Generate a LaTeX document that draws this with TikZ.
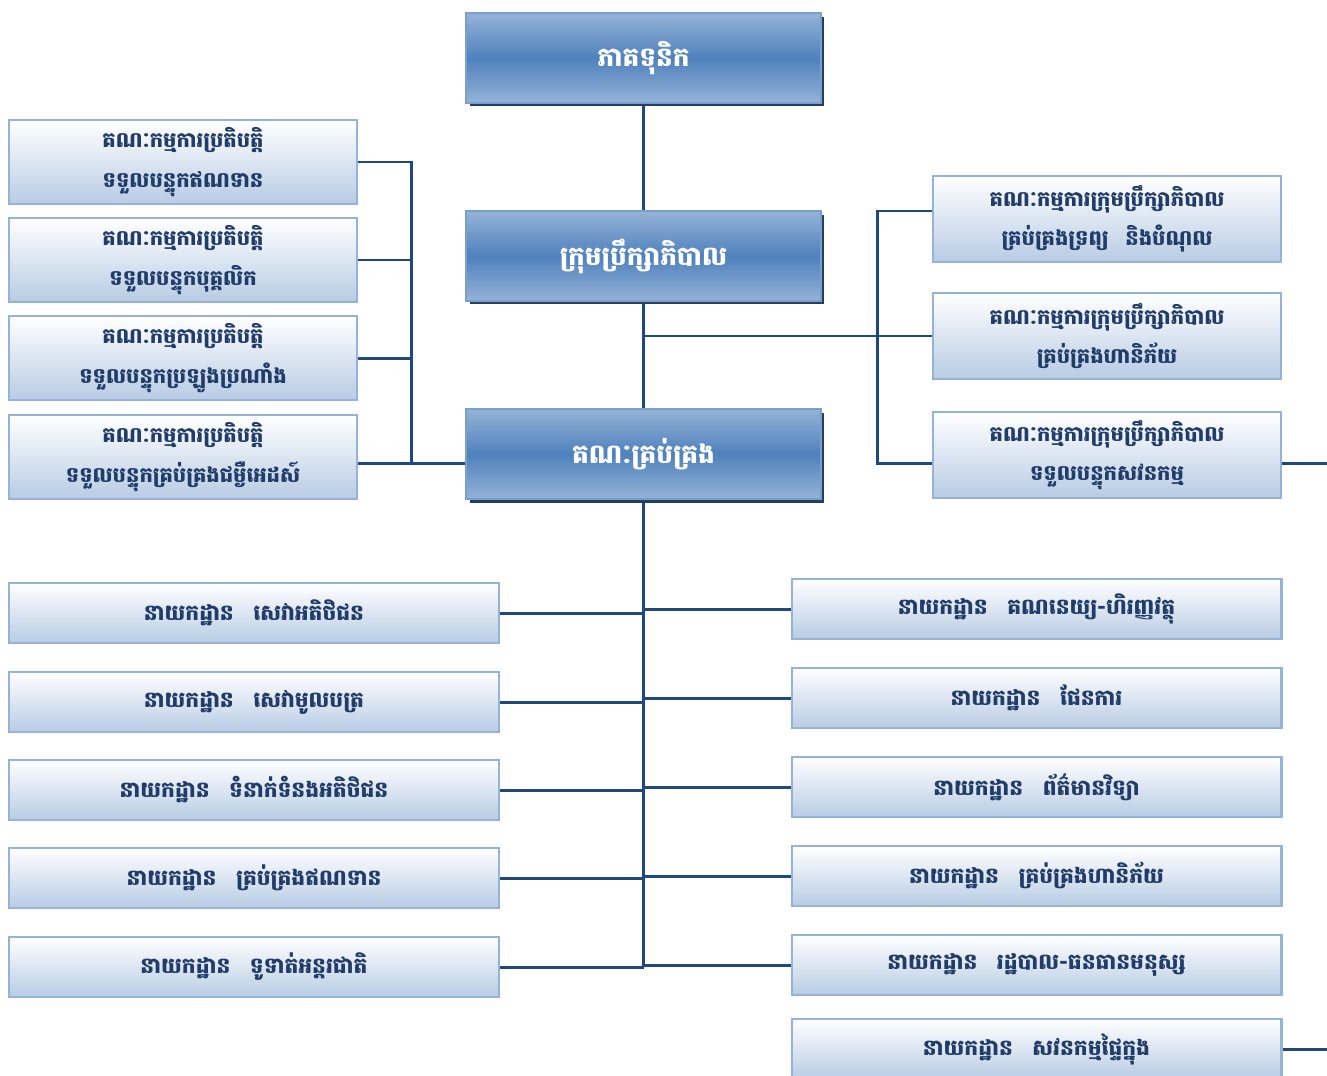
\documentclass[tikz,border=0pt]{standalone}
\usepackage{fontspec}
\newfontfamily\khmer[Script=Khmer]{Battambang}
\usepackage{tikz}
\usetikzlibrary{calc,shadows,backgrounds}
\definecolor{orgnavy}{RGB}{31,73,125}
\definecolor{orgblue}{RGB}{79,129,189}
\definecolor{orgpale}{RGB}{149,179,215}
\definecolor{orgmist}{RGB}{184,204,228}
\definecolor{orgshade}{RGB}{36,63,96}
\definecolor{orgink}{RGB}{33,60,105}
\tikzset{
  headbox/.style={rectangle, draw=orgpale!60!orgblue, line width=1.2pt,
                  top color=orgpale, bottom color=orgpale, middle color=orgblue,
                  minimum width=7.1cm, minimum height=1.8cm, inner sep=0pt,
                  text=white, font=\khmer\bfseries\fontsize{15}{18}\selectfont,
                  drop shadow={shadow xshift=0.07cm, shadow yshift=-0.07cm,
                               fill=orgshade, opacity=1}},
  combox/.style={rectangle, draw=orgpale, line width=1.2pt,
                 top color=white, bottom color=orgmist,
                 minimum width=6.96cm, minimum height=1.68cm, inner sep=0pt,
                 align=center, text=orgink,
                 font=\khmer\bfseries\fontsize{12}{22.5}\selectfont},
  rcombox/.style={combox, minimum height=1.72cm},
  deptbox/.style={combox, minimum width=9.8cm, minimum height=1.2cm,
                  font=\khmer\bfseries\fontsize{12.4}{15}\selectfont},
  orgline/.style={line width=1.7pt, orgnavy},
}
\newcommand{\nyk}{នាយកដ្ឋាន\hspace{0.9em}}
\newcommand{\cmexec}{គណៈកម្មការប្រតិបត្តិ}
\newcommand{\cmboard}{គណៈកម្មការក្រុមប្រឹក្សាភិបាល}

\begin{document}
\begin{tikzpicture}[x=0.02cm, y=-0.02cm]
  \useasboundingbox (0,0) rectangle (1327,1075);

  % ---- the three main levels ----------------------------------------------
  \node[headbox] (top)   at (643.5,58)  {ភាគទុនិក};
  \node[headbox] (board) at (643.5,256) {ក្រុមប្រឹក្សាភិបាល};
  \node[headbox] (mgmt)  at (643.5,454) {គណៈគ្រប់គ្រង};

  % ---- executive committees (left) ----------------------------------------
  \node[combox] (lc1) at (183,162) {\cmexec\\ទទួលបន្ទុកឥណទាន};
  \node[combox] (lc2) at (183,260) {\cmexec\\ទទួលបន្ទុកបុគ្គលិក};
  \node[combox] (lc3) at (183,358) {\cmexec\\ទទួលបន្ទុកប្រឡូងប្រណាំង};
  \node[combox] (lc4) at (183,457) {\cmexec\\ទទួលបន្ទុកគ្រប់គ្រងជម្ងឺអេដស៍};

  % ---- board committees (right) -------------------------------------------
  \node[rcombox] (rc1) at (1107,219) {\cmboard\\គ្រប់គ្រងទ្រព្យ\hspace{0.8em}និងបំណុល};
  \node[rcombox] (rc2) at (1107,336) {\cmboard\\គ្រប់គ្រងហានិភ័យ};
  \node[rcombox] (rc3) at (1107,455) {\cmboard\\ទទួលបន្ទុកសវនកម្ម};

  % ---- departments --------------------------------------------------------
  \foreach \i/\y/\t in {1/613/សេវាអតិថិជន, 2/702/សេវាមូលបត្រ,
                        3/790/ទំនាក់ទំនងអតិថិជន, 4/878/គ្រប់គ្រងឥណទាន,
                        5/967/ទូទាត់អន្តរជាតិ}
    \node[deptbox] (ld\i) at (254,\y) {\nyk\t};
  \foreach \i/\y/\t in {1/609/គណនេយ្យ-ហិរញ្ញវត្ថុ, 2/698/ផែនការ,
                        3/787/ព័ត៌មានវិទ្យា, 4/876/គ្រប់គ្រងហានិភ័យ,
                        5/965/រដ្ឋបាល-ធនធានមនុស្ស, 6/1049/សវនកម្មផ្ទៃក្នុង}
    \node[deptbox] (rd\i) at (1036.5,\y) {\nyk\t};

  % ---- connectors, behind the boxes ---------------------------------------
  \coordinate (lj)  at (411,463);
  \coordinate (rj)  at (877,337);
  \coordinate (ex1) at (1327,463);
  \coordinate (ex2) at (1327,1049);

  \begin{scope}[on background layer]
    \draw[orgline] (top.south) -- (top.south |- ld5.east);
    \draw[orgline] (lc1.east) -- (lc1.east -| lj) -- (lj);
    \draw[orgline] (lc4.east |- lj) -- (mgmt.west |- lj);
    \foreach \i in {2,3}
      \draw[orgline] (lc\i.east) -- (lc\i.east -| lj);
    \draw[orgline] (rc2.west) -- (rc2.west -| top.south);
    \draw[orgline] ([yshift=0.16cm]rc1.west) -- ([yshift=0.16cm]rc1.west -| rj)
                   -- (rc3.west |- ex1 -| rj) -- (rc3.west |- ex1);
    \foreach \i in {1,...,5} {
      \draw[orgline] (ld\i.east) -- (ld\i.east -| top.south);
      \draw[orgline] (rd\i.west) -- (rd\i.west -| top.south);
    }
    \draw[orgline] (rc3.east |- ex1) -- (ex1);
    \draw[orgline] (rd6.east) -- (ex2);
  \end{scope}
\end{tikzpicture}
\end{document}
